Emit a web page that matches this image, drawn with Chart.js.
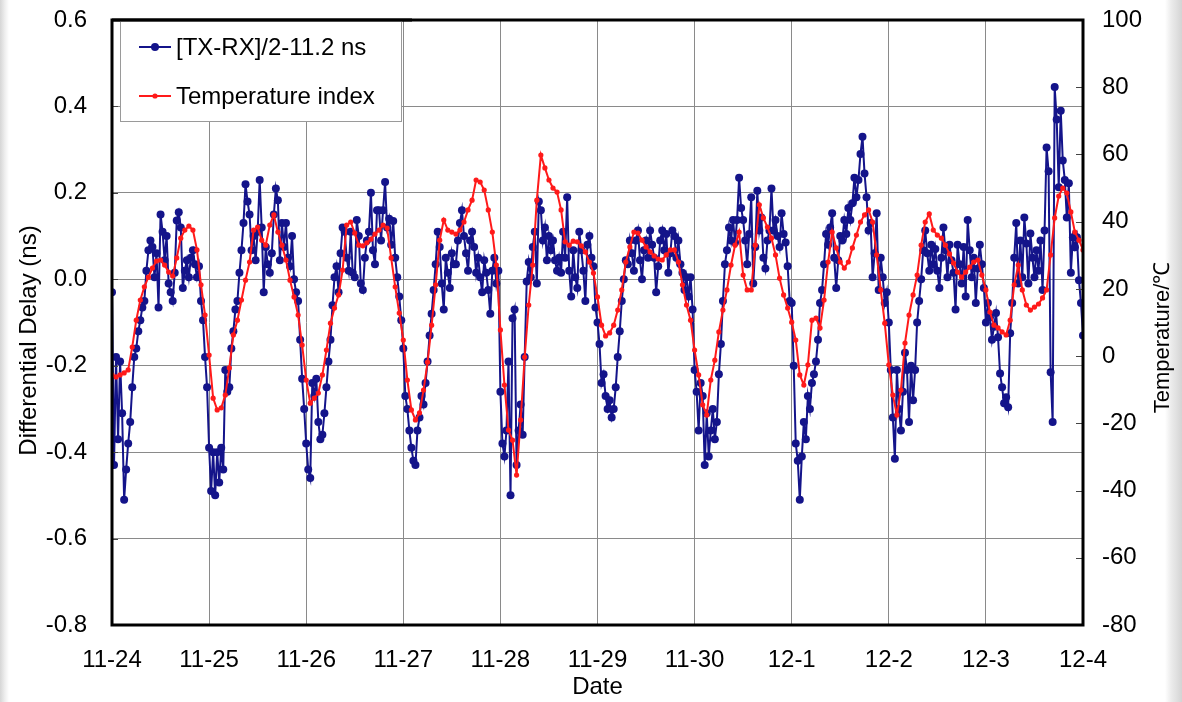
<!DOCTYPE html>
<html><head><meta charset="utf-8">
<script src="https://cdn.jsdelivr.net/npm/chart.js@4.4.1/dist/chart.umd.min.js"></script>
<style>
html,body{margin:0;padding:0;}
body{width:1182px;height:702px;overflow:hidden;background:linear-gradient(to right,#d6d6d6 0px,#efefef 5px,#fff 9px,#fff 1165px,#ececec 1171px,#d4d4d4 1182px);}
#wrap{position:relative;width:1182px;height:702px;}
</style></head><body><div id="wrap"><canvas id="c" width="1182" height="702"></canvas></div>
<script>
// ---- categories / tick labels ----
const dateLabels = ['11-24','11-25','11-26','11-27','11-28','11-29','11-30','12-1','12-2','12-3','12-4'];
const delayTickLabels = ['-0.8','-0.6','-0.4','-0.2','0.0','0.2','0.4','0.6'];
const tempTickLabels = ['-80','-60','-40','-20','0','20','40','60','80','100'];
const seriesNames = ['[TX-RX]/2-11.2 ns','Temperature index'];
const xTitle = 'Date';
const leftTitle = 'Differential Delay (ns)';
const rightTitle = 'Temperature/\u2103';

// ---- differential delay (ns), one reading every 30 min, one array per day ----
const delayDay1 = [-0.03,-0.43,-0.18,-0.37,-0.19,-0.31,-0.51,-0.44,-0.38,-0.33,-0.25,-0.18,-0.16,-0.12,-0.095,-0.065,-0.05,0.02,0.067,0.09,0.075,0.005,0.06,-0.065,0.15,0.11,0.044,0.1,-0.01,-0.03,-0.05,0.015,0.136,0.155,0.12,-0.02,0.02,0.044,0.005,0.05,0.067,0.035,0.005,0.03,-0.05,-0.095,-0.18,-0.25];
const delayDay2 = [-0.39,-0.49,-0.40,-0.50,-0.40,-0.47,-0.39,-0.44,-0.21,-0.26,-0.25,-0.16,-0.12,-0.07,-0.05,0.015,0.067,0.13,0.22,0.18,0.15,0.067,0.1,0.044,0.11,0.23,0.12,-0.03,0.075,0.035,0.015,0.06,0.15,0.21,0.183,0.044,0.13,0.075,0.13,0.05,0.03,0.1,0.0,-0.03,-0.05,-0.14,-0.23,-0.3];
const delayDay3 = [-0.38,-0.44,-0.46,-0.24,-0.27,-0.23,-0.33,-0.37,-0.36,-0.31,-0.25,-0.19,-0.14,-0.06,0.005,0.03,-0.03,0.06,0.12,0.11,0.05,0.02,0.11,0.015,0.005,0.137,0.1,-0.01,-0.025,0.05,0.09,0.11,0.2,0.067,0.035,0.16,0.16,0.09,0.16,0.225,0.12,0.14,0.08,0.135,0.05,0.005,-0.04,-0.095];
const delayDay4 = [-0.16,-0.27,-0.30,-0.35,-0.39,-0.42,-0.43,-0.35,-0.32,-0.27,-0.29,-0.24,-0.19,-0.13,-0.08,-0.025,0.035,0.11,0.075,-0.01,-0.07,0.05,0.015,-0.02,0.06,0.035,0.035,0.09,0.13,0.16,0.1,0.06,0.02,0.09,0.11,0.075,0.015,0.05,0.005,-0.03,0.044,0.015,-0.025,-0.08,0.02,0.05,-0.01,0.02];
const delayDay5 = [-0.26,-0.38,-0.41,-0.35,-0.19,-0.5,-0.09,-0.07,-0.43,-0.35,-0.29,-0.36,-0.18,-0.005,0.04,0.005,0.075,0.11,-0.01,0.18,0.16,0.09,0.12,0.044,0.1,0.067,0.09,0.044,0.02,0.05,0.015,0.11,0.05,0.19,0.02,-0.04,0.067,0.005,-0.02,0.11,0.067,0.02,-0.05,0.08,0.1,0.05,0.03,-0.065];
const delayDay6 = [-0.1,-0.15,-0.24,-0.22,-0.27,-0.3,-0.28,-0.32,-0.3,-0.25,-0.18,-0.12,-0.05,0.0,0.044,0.035,0.09,0.06,0.02,0.09,0.113,0.044,0.0,0.067,0.09,0.05,0.113,0.08,0.05,-0.03,0.03,0.09,0.113,0.067,0.105,0.015,0.06,0.113,0.1,0.05,0.09,0.035,0.015,-0.025,0.005,-0.04,0.005,-0.07];
const delayDay7 = [-0.21,-0.26,-0.35,-0.24,-0.27,-0.43,-0.31,-0.41,-0.35,-0.3,-0.37,-0.33,-0.22,-0.15,-0.05,0.035,0.067,0.12,0.09,0.137,0.085,0.137,0.235,0.165,0.137,0.09,0.035,0.105,0.19,-0.01,0.075,0.205,0.113,0.143,0.05,0.025,0.09,0.113,0.21,0.113,0.137,0.1,0.075,0.153,0.105,0.085,0.03,-0.05];
const delayDay8 = [-0.055,-0.2,-0.38,-0.42,-0.51,-0.41,-0.33,-0.37,-0.27,-0.3,-0.24,-0.22,-0.19,-0.14,-0.055,-0.025,0.035,0.105,0.08,0.12,0.153,0.05,-0.02,0.044,0.1,0.09,0.137,0.105,0.165,0.137,0.176,0.235,0.19,0.23,0.29,0.33,0.245,0.19,0.113,0.13,0.005,0.06,0.153,-0.025,0.05,0.005,-0.055,-0.03];
const delayDay9 = [-0.1,-0.21,-0.32,-0.415,-0.21,-0.3,-0.35,-0.26,-0.17,-0.21,-0.33,-0.2,-0.28,-0.21,-0.1,-0.05,0.0,0.067,0.113,0.06,0.02,0.08,0.035,0.07,0.02,-0.02,0.05,0.12,0.067,0.005,0.08,0.044,0.015,-0.07,0.08,0.035,-0.01,0.075,-0.04,0.137,0.067,0.005,0.05,-0.055,0.025,0.08,0.035,-0.02];
const delayDay10 = [-0.1,-0.055,-0.088,-0.14,-0.11,-0.078,-0.134,-0.218,-0.25,-0.287,-0.273,-0.296,-0.125,-0.055,0.05,0.13,-0.01,0.09,0.005,0.143,0.083,-0.01,0.106,0.05,0.005,0.067,0.02,0.09,-0.025,0.113,0.305,0.25,-0.215,-0.33,0.445,0.37,0.213,0.39,0.275,0.23,0.143,0.222,0.015,0.097,0.074,0.097,-0.002,-0.055,-0.13];

// ---- temperature index (deg C), one reading per hour, one array per day ----
const tempDay1 = [-5.6,-6.2,-5.6,-5,-4.1,2.7,10.7,16.7,20.6,23.5,26.2,28.3,28.6,27.1,25,23.8,29.2,35.1,37.5,38.7,37.5,31.6,21.2,12.2];
const tempDay2 = [0.3,-12.5,-16,-15.4,-11.6,-3.5,6.3,10.7,16.7,22.6,28,37.5,38.4,34.5,33,39,42,36.9,33,28.6,22.6,17.6,12.2,3.3];
const tempDay3 = [-7.1,-14,-12.5,-11,-5.6,1.8,9.8,14.3,18.2,25.6,39,39.9,36.6,33,32.8,33.7,34.8,36.3,37.5,39,38.1,29.2,20.6,12.8];
const tempDay4 = [4.8,-7.1,-16,-19,-16.9,-10.1,-1.8,9.2,21.2,34.5,40.5,37.5,36.9,36.3,37.5,39.9,43.5,46.4,52.4,51.8,49.4,43.5,36.9,27.1];
const tempDay5 = [7.8,-8.6,-22,-25,-35.4,-19,-0.3,15.2,27.1,46.4,59.8,56,52.4,50,48.8,43.5,34,33,34.2,34,32.8,31,28,24.7];
const tempDay6 = [17.6,9.2,6,6.9,9.2,13.7,19.7,28,32.5,36.9,36.6,34.5,32.5,31,29.8,28.9,28.6,30.1,31.6,31.6,28,21.2,15.2,10.7];
const tempDay7 = [1.8,-5.6,-14.5,-17.5,-7.1,-1.2,7.2,13.7,19.7,27.1,33,36.9,24.1,19.7,19.7,33,45,41.1,38.4,35.1,30.1,23.2,18.2,14.3];
const tempDay8 = [10.1,4.8,-5.6,-8.6,-2.6,10.7,11.3,8.4,16.7,28,36.9,32.2,28,26.2,28,32.2,36,39.9,42,43.5,39.9,30.1,19.7,9.8];
const tempDay9 = [-2.6,-11.6,-17.5,-10.1,3.9,12.2,18.2,24.1,33,39.9,42.3,37.5,36,35.1,33,30.4,27.7,25,23.5,25,26.5,28,28.6,24.1];
const tempDay10 = [19.7,13.1,9.2,8.4,7.2,6.3,10.7,21.2,27.1,19.7,15.2,13.7,14.6,15.5,17.3,19.7,30.1,41.1,47.6,50,48.5,42.9,36.9,34.5,31.6];

const delayDays = [delayDay1,delayDay2,delayDay3,delayDay4,delayDay5,delayDay6,delayDay7,delayDay8,delayDay9,delayDay10];
const tempDays = [tempDay1,tempDay2,tempDay3,tempDay4,tempDay5,tempDay6,tempDay7,tempDay8,tempDay9,tempDay10];
const DELAY_PER_DAY = 48, TEMP_PER_DAY = 24;

const delayPoints = [];
delayDays.forEach((arr, d) => arr.forEach((v, k) => delayPoints.push({x: d + k / DELAY_PER_DAY, y: v})));
const tempPoints = [];
tempDays.forEach((arr, d) => arr.forEach((v, k) => tempPoints.push({x: d + k / TEMP_PER_DAY, y: v})));

const FONT = '"Liberation Sans", Arial, Helvetica, sans-serif';
const BLUE = '#14148a', RED = '#ff1a1a', GRID = '#8a8a8a';
Chart.defaults.font.family = FONT;
Chart.defaults.color = '#000';

const decor = {
  id: 'decor',
  afterDatasetsDraw(chart) {
    const {ctx, chartArea: a, scales} = chart;
    ctx.save();
    // inward ticks on the value axes
    ctx.strokeStyle = '#444'; ctx.lineWidth = 1;
    scales.y2.ticks.forEach(t => {
      const py = Math.round(scales.y2.getPixelForValue(t.value)) + 0.5;
      ctx.beginPath(); ctx.moveTo(a.right - 7, py); ctx.lineTo(a.right, py); ctx.stroke();
    });
    scales.y.ticks.forEach(t => {
      const py = Math.round(scales.y.getPixelForValue(t.value)) + 0.5;
      ctx.beginPath(); ctx.moveTo(a.left, py); ctx.lineTo(a.left + 6, py); ctx.stroke();
    });
    // plot frame
    ctx.strokeStyle = '#000'; ctx.lineWidth = 3;
    ctx.strokeRect(a.left, a.top, a.right - a.left, a.bottom - a.top);
    // legend box
    const lx = a.left + 8, ly = a.top + 1, lw = 281, lh = 100;
    ctx.fillStyle = '#fff'; ctx.fillRect(lx, ly, lw, lh);
    ctx.strokeStyle = '#9a9a9a'; ctx.lineWidth = 1;
    ctx.strokeRect(lx + 0.5, ly + 0.5, lw, lh);
    ctx.strokeStyle = '#000'; ctx.lineWidth = 3;
    ctx.beginPath(); ctx.moveTo(a.left, a.top); ctx.lineTo(a.left + 300, a.top); ctx.stroke();
    const rows = [
      {y: a.top + 27, color: BLUE, r: 4, lw: 2, text: seriesNames[0]},
      {y: a.top + 76, color: RED, r: 2.6, lw: 2, text: seriesNames[1]}
    ];
    ctx.font = '24px ' + FONT; ctx.textBaseline = 'middle'; ctx.textAlign = 'left';
    rows.forEach(r => {
      ctx.strokeStyle = r.color; ctx.lineWidth = r.lw;
      ctx.beginPath(); ctx.moveTo(a.left + 27, r.y); ctx.lineTo(a.left + 59, r.y); ctx.stroke();
      ctx.fillStyle = r.color; ctx.beginPath(); ctx.arc(a.left + 43, r.y, r.r, 0, Math.PI * 2); ctx.fill();
      ctx.fillStyle = '#000'; ctx.fillText(r.text, a.left + 64, r.y + 1);
    });
    ctx.restore();
  },
  afterDraw(chart) {
    const {ctx, chartArea: a} = chart;
    const cy = (a.top + a.bottom) / 2 + 18;
    ctx.save();
    ctx.fillStyle = '#000'; ctx.font = '24px ' + FONT;
    ctx.textAlign = 'center'; ctx.textBaseline = 'middle';
    ctx.translate(29, cy); ctx.rotate(-Math.PI / 2); ctx.fillText(leftTitle, 0, 0);
    ctx.restore();
    ctx.save();
    ctx.fillStyle = '#000'; ctx.font = '22px ' + FONT;
    ctx.textAlign = 'center'; ctx.textBaseline = 'middle';
    ctx.translate(1163, cy - 3); ctx.rotate(-Math.PI / 2); ctx.fillText(rightTitle, 0, 0);
    ctx.restore();
  }
};

new Chart(document.getElementById('c'), {
  type: 'line',
  data: {
    datasets: [
      {label: seriesNames[0], data: delayPoints, yAxisID: 'y', borderColor: BLUE, backgroundColor: BLUE,
       borderWidth: 2, pointRadius: 4, pointBorderWidth: 0, pointHoverRadius: 0, tension: 0, order: 2},
      {label: seriesNames[1], data: tempPoints, yAxisID: 'y2', borderColor: RED, backgroundColor: RED,
       borderWidth: 2, pointRadius: 2.6, pointBorderWidth: 0, pointHoverRadius: 0, tension: 0, order: 1}
    ]
  },
  options: {
    responsive: false, animation: false, events: [],
    layout: {padding: {left: 0, right: 0, top: 20, bottom: 0}},
    plugins: {legend: {display: false}, tooltip: {enabled: false}},
    scales: {
      x: {type: 'linear', min: 0, max: 10,
          ticks: {stepSize: 1, autoSkip: false, maxRotation: 0, padding: 21, font: {size: 24},
                  callback: (v, i) => dateLabels[i]},
          grid: {color: GRID, lineWidth: 1, drawTicks: false},
          border: {display: false},
          title: {display: true, text: xTitle, font: {size: 24}, padding: {top: 0, bottom: 0}},
          afterFit: s => { s.height = 77; s.paddingLeft = 0; s.paddingRight = 0; }},
      y: {position: 'left', min: -0.8, max: 0.6,
          ticks: {stepSize: 0.2, padding: 25, font: {size: 24}, callback: (v, i) => delayTickLabels[i]},
          grid: {color: GRID, lineWidth: 1, drawTicks: false},
          border: {display: false},
          afterFit: s => { s.width = 112; s.paddingTop = 0; s.paddingBottom = 0; }},
      y2: {position: 'right', min: -80, max: 100,
          ticks: {stepSize: 20, padding: 19, font: {size: 24}, callback: (v, i) => tempTickLabels[i]},
          grid: {display: false, drawTicks: false},
          border: {display: false},
          afterFit: s => { s.width = 99; s.paddingTop = 0; s.paddingBottom = 0; }}
    }
  },
  plugins: [decor]
});
</script></body></html>
